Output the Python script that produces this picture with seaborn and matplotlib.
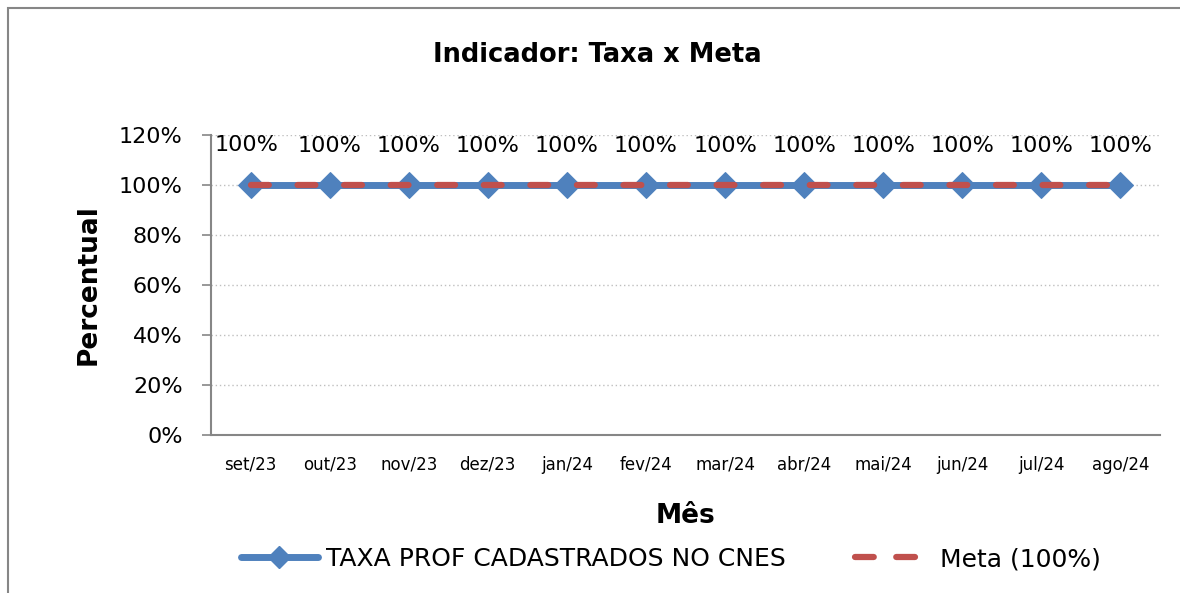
import matplotlib
matplotlib.use("Agg")
import matplotlib.pyplot as plt
import seaborn as sns
import numpy as np
import pandas as pd
from matplotlib.patches import Rectangle
from matplotlib.lines import Line2D

months = ["set/23", "out/23", "nov/23", "dez/23", "jan/24", "fev/24",
          "mar/24", "abr/24", "mai/24", "jun/24", "jul/24", "ago/24"]
taxa = [100, 100, 100, 100, 100, 100, 100, 100, 100, 100, 100, 100]
meta = [100, 100, 100, 100, 100, 100, 100, 100, 100, 100, 100, 100]
yticks = [0, 20, 40, 60, 80, 100, 120]

sns.set_theme(style="white")
plt.rcParams['font.family'] = ['DejaVu Sans']
plt.rcParams['text.color'] = 'black'
plt.rcParams['axes.labelcolor'] = 'black'
plt.rcParams['xtick.color'] = 'black'
plt.rcParams['ytick.color'] = 'black'

df = pd.DataFrame({"pos": np.arange(len(months)), "mes": months,
                   "taxa": taxa, "meta": meta})

fig = plt.figure(figsize=(11.8, 5.93), dpi=100)
ax = fig.add_axes([211/1180, 1-435/593, (1160-211)/1180, 300/593])

blue = "#4F81BD"
red = "#C0504D"

sns.lineplot(data=df, x="pos", y="taxa", ax=ax, color=blue, linewidth=5,
             marker="D", markersize=13, markeredgecolor=blue, zorder=3)
sns.lineplot(data=df, x="pos", y="meta", ax=ax, color=red, linewidth=4.5,
             zorder=4)
ax.lines[-1].set_dashes([2.85, 4.6])
ax.lines[-1].set_dash_capstyle("round")

for i, v in enumerate(taxa):
    ax.annotate(f"{v}%", (i, v), xytext=(-3 if i == 0 else 0, 29 if i == 0 else 28),
                textcoords="offset points", ha="center", va="center",
                fontsize=16, color="black")

ax.set_xlim(-0.5, len(months) - 0.5)
ax.set_ylim(0, 120)
ax.set_yticks(yticks)
ax.set_yticklabels([f"{t}%" for t in yticks], fontsize=16)
ax.set_xticks(np.arange(len(months)))
ax.set_xticklabels(months, fontsize=12)
ax.set_xticks(np.arange(-0.5, len(months) + 0.5, 1), minor=True)
ax.tick_params(axis="x", which="major", length=0, pad=15)
ax.tick_params(axis="x", which="minor", length=6, color="#868686", width=1.2, direction="out")
ax.tick_params(axis="y", length=6.5, color="#868686", width=1.2, direction="out", pad=14,
               left=True)
ax.yaxis.grid(True, linestyle=(0, (1, 2)), color="#BFBFBF", linewidth=1)
ax.set_axisbelow(True)
for s in ["top", "right"]:
    ax.spines[s].set_visible(False)
for s in ["left", "bottom"]:
    ax.spines[s].set_color("#868686")
    ax.spines[s].set_linewidth(1.5)

ax.set_xlabel("Mês", fontsize=19, fontweight="bold", labelpad=21)
ax.set_ylabel("Percentual", fontsize=19, fontweight="bold", labelpad=12)
fig.text(597/1180, 1-55/593, "Indicador: Taxa x Meta", ha="center", va="center",
         fontsize=18.5, fontweight="bold")

h1 = Line2D([], [], color=blue, linewidth=5, marker="D", markersize=11,
            markeredgecolor=blue)
h2 = Line2D([], [], color=red, linewidth=4.5, dashes=[3.0, 3.6], dash_capstyle="round")
fig.legend([h1, h2], ["TAXA PROF CADASTRADOS NO CNES", "Meta (100%)"],
           loc="center", bbox_to_anchor=(671/1180, 1-559/593), ncol=2,
           frameon=False, fontsize=18, handlelength=3.1, columnspacing=2.8,
           handletextpad=0.3)

fig.patches.append(Rectangle((8/1180, -10/593), 1200/1180, 595/593, transform=fig.transFigure,
                             fill=False, edgecolor="#868686", linewidth=1.5))

fig.savefig("out.png", dpi=100)
